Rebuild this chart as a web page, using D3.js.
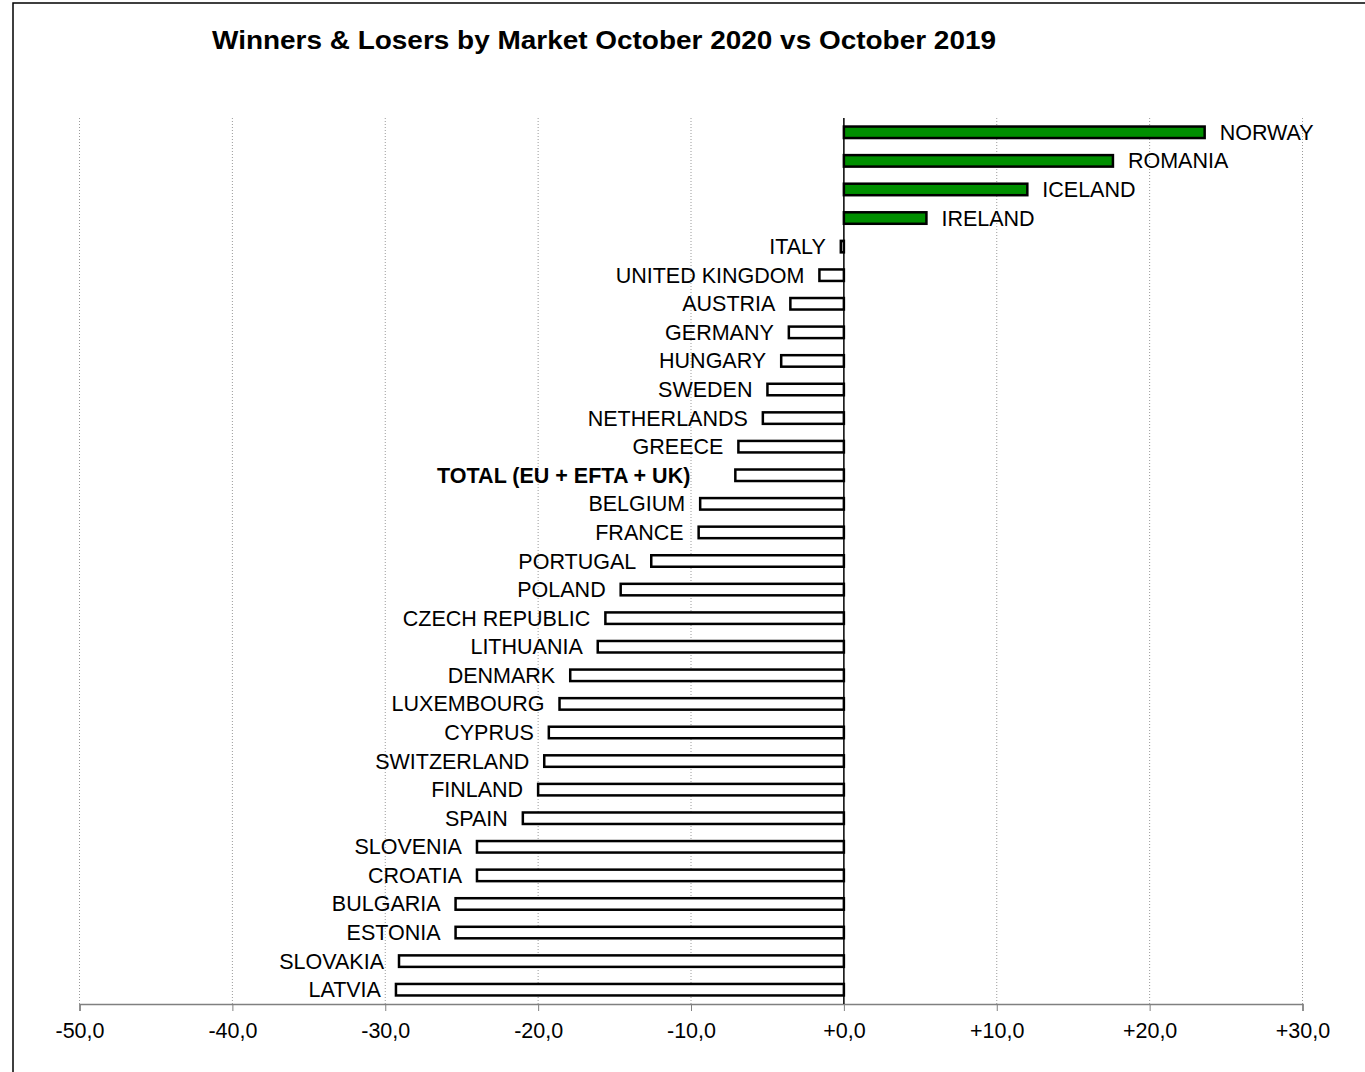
<!DOCTYPE html>
<html>
<head>
<meta charset="utf-8">
<script src="https://cdn.jsdelivr.net/npm/d3@7"></script>
<style>
  body { margin: 0; background: #fff; }
  svg { display: block; font-family: "Liberation Sans", Arial, sans-serif; }
</style>
</head>
<body>
<div id="chart"></div>
<script>
// markets, top to bottom
const markets = [
    "NORWAY", "ROMANIA", "ICELAND", "IRELAND", "ITALY", "UNITED KINGDOM",
    "AUSTRIA", "GERMANY", "HUNGARY", "SWEDEN", "NETHERLANDS", "GREECE",
    "TOTAL (EU + EFTA + UK)", "BELGIUM", "FRANCE", "PORTUGAL", "POLAND",
    "CZECH REPUBLIC", "LITHUANIA", "DENMARK", "LUXEMBOURG", "CYPRUS",
    "SWITZERLAND", "FINLAND", "SPAIN", "SLOVENIA", "CROATIA", "BULGARIA",
    "ESTONIA", "SLOVAKIA", "LATVIA"
];
// % change Oct 2020 vs Oct 2019
const changes = [
    23.6, 17.6, 12.0, 5.4, -0.2, -1.6,
    -3.5, -3.6, -4.1, -5.0, -5.3, -6.9,
    -7.1, -9.4, -9.5, -12.6, -14.6,
    -15.6, -16.1, -17.9, -18.6, -19.3,
    -19.6, -20.0, -21.0, -24.0, -24.0, -25.4,
    -25.4, -29.1, -29.3
];
const xTicks = [-50, -40, -30, -20, -10, 0, 10, 20, 30];
const totalLabel = "TOTAL (EU + EFTA + UK)";

const width = 1365, height = 1072;
const svg = d3.select("#chart").append("svg")
    .attr("width", width)
    .attr("height", height);

// outer frame
svg.append("rect")
    .attr("x", 13).attr("y", 3)
    .attr("width", width).attr("height", height)
    .attr("fill", "none")
    .attr("stroke", "#000")
    .attr("stroke-width", 1.5);

svg.append("text")
    .attr("x", 212).attr("y", 49)
    .attr("font-size", 25)
    .attr("font-weight", "bold")
    .attr("textLength", 784)
    .attr("lengthAdjust", "spacingAndGlyphs")
    .text("Winners & Losers by Market October 2020 vs October 2019");

const plotTop = 118, plotBottom = 1004;
const x = d3.scaleLinear().domain([-50, 30]).range([79.5, 1302.5]);
const y = d3.scaleBand().domain(markets).range([plotTop, plotBottom]).padding(0);

// dotted gridlines
svg.append("g")
    .selectAll("line")
    .data(xTicks.filter(d => d !== 0))
    .enter()
    .append("line")
    .attr("x1", d => x(d)).attr("x2", d => x(d))
    .attr("y1", plotTop).attr("y2", plotBottom)
    .attr("stroke", "#9a9a9a")
    .attr("stroke-width", 1)
    .attr("stroke-dasharray", "1,2");

// x axis
const axis = svg.append("g")
    .attr("transform", `translate(0,${plotBottom})`)
    .call(d3.axisBottom(x)
        .tickValues(xTicks)
        .tickSize(7)
        .tickPadding(12)
        .tickFormat(d => (d >= 0 ? "+" : "-") + Math.abs(d).toFixed(1).replace(".", ",")));
axis.select(".domain").attr("stroke", "#808080").attr("stroke-width", 1.5);
axis.selectAll(".tick line").attr("stroke", "#808080");
axis.selectAll(".tick text")
    .attr("font-size", 21.5)
    .attr("font-family", "Liberation Sans, Arial, sans-serif")
    .attr("fill", "#000");

const barH = 11.5;
const data = markets.map((m, i) => ({ name: m, value: changes[i] }));

svg.append("g")
    .selectAll("rect")
    .data(data)
    .enter()
    .append("rect")
    .attr("x", d => x(Math.min(0, d.value)))
    .attr("width", d => Math.abs(x(d.value) - x(0)))
    .attr("y", d => y(d.name) + y.bandwidth() / 2 - barH / 2)
    .attr("height", barH)
    .attr("fill", d => d.value > 0 ? "#008f00" : "#fff")
    .attr("stroke", "#000")
    .attr("stroke-width", 2.5);

// zero line
svg.append("line")
    .attr("x1", x(0)).attr("x2", x(0))
    .attr("y1", plotTop).attr("y2", plotBottom)
    .attr("stroke", "#000")
    .attr("stroke-width", 1.5);

// labels sit outside the bar end; the bold total is pushed a bit further
svg.append("g")
    .selectAll("text")
    .data(data)
    .enter()
    .append("text")
    .attr("x", d => {
        const gap = d.name === totalLabel ? 45 : 15;
        return d.value > 0 ? x(d.value) + gap : x(d.value) - gap;
    })
    .attr("y", d => y(d.name) + y.bandwidth() / 2)
    .attr("dy", "0.35em")
    .attr("text-anchor", d => d.value > 0 ? "start" : "end")
    .attr("font-size", 21.5)
    .attr("font-weight", d => d.name === totalLabel ? "bold" : "normal")
    .text(d => d.name);
</script>
</body>
</html>
